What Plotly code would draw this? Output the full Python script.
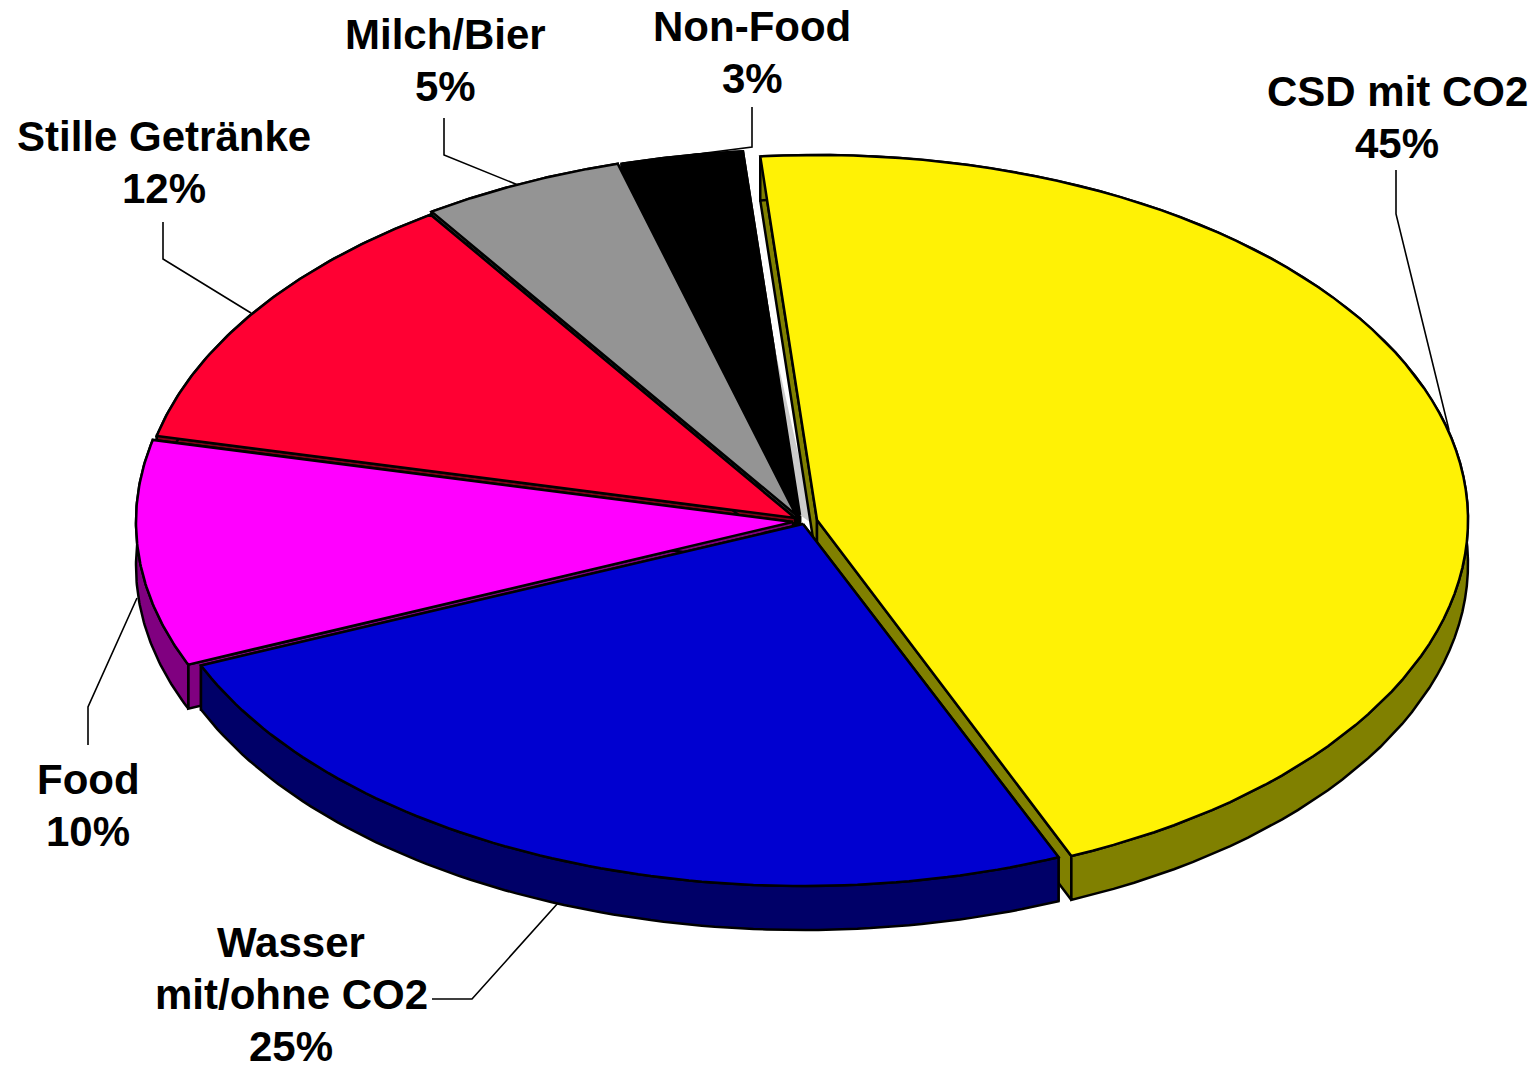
import numpy as np
import plotly.graph_objects as go

# --- data
categories = [["CSD mit CO2"], ["Wasser", "mit/ohne CO2"], ["Food"], ["Stille Getränke"], ["Milch/Bier"], ["Non-Food"]]
values = [45, 25, 10, 12, 5, 3]

# --- style
top_colors = ["#FFF205", "#0000D0", "#FF00FF", "#FF0033", "#949494", "#000000"]
wall_colors = ["#808000", "#000068", "#800080", "#800019", "#4B4B4B", "#000000"]
apex_x = [817, 803, 793, 795, 796, 800]
apex_y = [520, 524, 522, 518, 515, 515]
radius_x = [651, 654, 657, 655, 655, 655]
radius_y = [365, 362, 365, 365, 365, 365]
draw_order = [5, 4, 3, 2, 0, 1]
start_angle = -5.0
depth = 44
W, H = 1533, 1069

label_x = [1397, 291, 88, 164, 445, 752]
label_y = [91, 942, 779, 136, 34, 26]   # centre of each label's first line
line_gap = 52
leaders_x = [[1396, 1396, 1449], [432, 472, 558], [88, 88, 137], [163, 163, 251], [444, 444, 518], [752, 752, 690]]
leaders_y = [[170, 214, 430], [999, 999, 903], [745, 707, 598], [222, 259, 313], [118, 155, 185], [107, 147, 155]]

fracs = np.array(values, dtype=float) / sum(values)
edges = np.radians(start_angle + 360 * np.concatenate([[0], np.cumsum(fracs)]))

fig = go.Figure()


def poly(xs, ys, fill, width=2.5):
    fig.add_trace(go.Scatter(x=xs, y=ys, mode="lines", fill="toself", fillcolor=fill,
                             line=dict(color="black", width=width), hoverinfo="skip", showlegend=False))


for i in draw_order:
    ax, ay, rx, ry = apex_x[i], apex_y[i], radius_x[i], radius_y[i]
    t = np.linspace(edges[i], edges[i + 1], 80)
    px = ax + rx * np.sin(t)
    py = ay - ry * np.cos(t)
    # radial cut walls
    for k in (0, -1):
        poly([ax, px[k], px[k], ax, ax], [ay, py[k], py[k] + depth, ay + depth, ay], wall_colors[i])
    # outer rim wall
    poly(list(px) + list(px[::-1]) + [px[0]], list(py) + list(py[::-1] + depth) + [py[0]], wall_colors[i])
    if i == 5:
        # pale inner face visible beside the black slice
        f = 0.5
        poly([ax + f * (px[-1] - ax), ax, ax + 14, ax + f * (px[-1] - ax)],
             [ay + f * (py[-1] - ay), ay, ay + 10, ay + f * (py[-1] - ay)], "#CCCCCC", width=0)
    # top face
    poly([ax] + list(px) + [ax], [ay] + list(py) + [ay], top_colors[i])

for lx, ly in zip(leaders_x, leaders_y):
    fig.add_trace(go.Scatter(x=lx, y=ly, mode="lines", line=dict(color="black", width=1.6),
                             hoverinfo="skip", showlegend=False))

annotations = []
for cat, v, x, y in zip(categories, values, label_x, label_y):
    for n, text in enumerate(cat + [f"{v}%"]):
        annotations.append(dict(
            x=x, y=y + n * line_gap, xref="x", yref="y", text=text, showarrow=False,
            xanchor="center", yanchor="middle",
            font=dict(family="Liberation Sans", size=42, color="black", weight="bold")))

fig.update_layout(
    width=W, height=H, margin=dict(l=0, r=0, t=0, b=0),
    paper_bgcolor="white", plot_bgcolor="white", annotations=annotations, showlegend=False,
    xaxis=dict(range=[0, W], visible=False, fixedrange=True),
    yaxis=dict(range=[H, 0], visible=False, fixedrange=True),
)
fig.write_html("out.html", config={"displayModeBar": False},
               post_script="document.body.style.margin='0';document.body.style.overflow='hidden';")
